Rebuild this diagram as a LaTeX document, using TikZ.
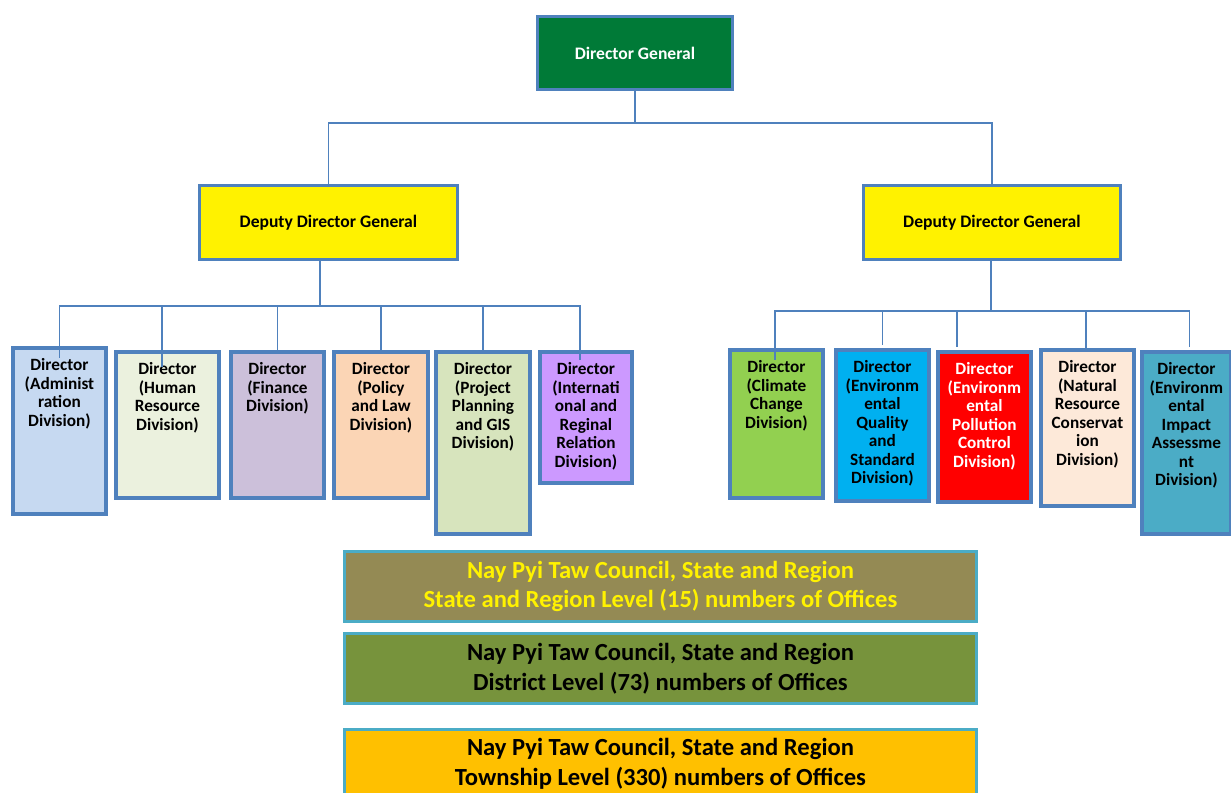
\documentclass[tikz,border=0pt]{standalone}
\usepackage{fontspec}
\setmainfont{Carlito}
\usepackage{tikz}
\usetikzlibrary{calc}
\definecolor{boxblue}{RGB}{79,129,189}
\definecolor{levelblue}{RGB}{75,172,198}
\definecolor{dggreen}{RGB}{0,122,55}
\definecolor{adminfill}{RGB}{198,217,241}
\definecolor{hrfill}{RGB}{235,241,222}
\definecolor{finfill}{RGB}{204,192,218}
\definecolor{policyfill}{RGB}{251,213,181}
\definecolor{projectfill}{RGB}{215,228,189}
\definecolor{intlfill}{RGB}{204,153,255}
\definecolor{climatefill}{RGB}{146,208,80}
\definecolor{qualityfill}{RGB}{0,176,240}
\definecolor{pollutionfill}{RGB}{255,0,0}
\definecolor{naturalfill}{RGB}{253,233,217}
\definecolor{impactfill}{RGB}{75,172,198}
\definecolor{statefill}{RGB}{148,138,84}
\definecolor{districtfill}{RGB}{119,147,60}
\definecolor{townshipfill}{RGB}{255,192,0}
\newdimen\pxu \pxu=0.02cm
\tikzset{
	conn/.style={draw=boxblue, line width=0.8pt},
	headbox/.style={draw=boxblue, line width=1.7pt, anchor=north west, inner sep=0pt,
		font=\bfseries\fontsize{10}{12}\selectfont},
	divbox/.style={draw=boxblue, line width=2.2pt, anchor=north west, inner sep=0pt,
		font=\bfseries\fontsize{9.8}{10.5}\selectfont},
	levelbox/.style={draw=levelblue, line width=1.7pt, anchor=north west, inner sep=0pt,
		align=center, minimum width=12.64cm, font=\bfseries\fontsize{14}{17}\selectfont}
}
\newcommand{\makedivision}[7]{
	\node[divbox, #6] (#1) at (#2,#3)
		{\parbox[t][#5\pxu][t]{#4\pxu}{\centering\rule{0pt}{13pt}#7}};
}

\begin{document}
\begin{tikzpicture}[x=0.02cm,y=-0.02cm]
	\useasboundingbox (0,0) rectangle (1231,793);

	\node[headbox, fill=dggreen, text=white, minimum width=3.9cm, minimum height=1.46cm] (dg) at (536,15) {Director General};
	\node[headbox, fill=yellow, minimum width=5.16cm, minimum height=1.48cm] (ddgL) at (198,184) {Deputy Director General};
	\node[headbox, fill=yellow, minimum width=5.14cm, minimum height=1.48cm] (ddgR) at (862,184) {Deputy Director General};

	\makedivision{admin}{11}{346}{93}{166}{fill=adminfill}{Director\\(Administ\\ration\\Division)}
	\makedivision{hr}{114}{350}{103}{146}{fill=hrfill}{Director\\(Human\\Resource\\Division)}
	\makedivision{fin}{229}{350}{93}{146}{fill=finfill}{Director\\(Finance\\Division)}
	\makedivision{policy}{332}{350}{94}{146}{fill=policyfill}{Director\\(Policy\\and Law\\Division)}
	\makedivision{project}{434}{350}{94}{182}{fill=projectfill}{Director\\(Project\\Planning\\and GIS\\Division)}
	\makedivision{intl}{538}{350}{92}{131}{fill=intlfill}{Director\\(Internati\\onal and\\Reginal\\Relation\\Division)}
	\makedivision{climate}{728}{348}{93}{148}{fill=climatefill}{Director\\(Climate\\Change\\Division)}
	\makedivision{quality}{834}{348}{93}{151}{fill=qualityfill}{Director\\(Environm\\ental\\Quality\\and\\Standard\\Division)}
	\makedivision{pollution}{936}{350}{93}{150}{fill=pollutionfill, text=white}{Director\\(Environm\\ental\\Pollution\\Control\\Division)}
	\makedivision{natural}{1039}{348}{93}{156}{fill=naturalfill}{Director\\(Natural\\Resource\\Conservat\\ion\\Division)}
	\makedivision{impact}{1140}{350}{89}{182}{fill=impactfill}{Director\\(Environm\\ental\\Impact\\Assessme\\nt\\Division)}

	\node[levelbox, fill=statefill, text=yellow, minimum height=1.4cm] (state) at (343,550)
		{Nay Pyi Taw Council, State and Region\\State and Region Level (15) numbers of Offices};
	\node[levelbox, fill=districtfill, minimum height=1.4cm] (district) at (343,632)
		{Nay Pyi Taw Council, State and Region\\District Level (73) numbers of Offices};
	\node[levelbox, fill=townshipfill, minimum height=1.36cm] (township) at (343,728)
		{Nay Pyi Taw Council, State and Region\\Township Level (330) numbers of Offices};

	% connectors
	\coordinate (busTop) at (633,123);
	\coordinate (busL) at (320,306);
	\coordinate (busR) at (991,311);
	\draw[conn] (dg.south) -- (dg.south |- busTop);
	\draw[conn] (ddgL.north) |- (busTop) -| (ddgR.north);
	\draw[conn] (ddgL.south -| busL) -- (busL);
	\draw[conn] (ddgR.south -| busR) -- (busR);
	\foreach \d/\dx/\dy in {admin/0/12, hr/-5.5/17, fin/0/0, policy/0/0, project/0/0, intl/-6/10}
		\draw[conn] (busL) -| ($(\d.north)+(\dx,\dy)$);
	\foreach \d/\dx/\dy in {climate/-1.5/12, quality/0/-3, pollution/-27.5/-3, natural/-1.5/0, impact/3/-3}
		\draw[conn] (busR) -| ($(\d.north)+(\dx,\dy)$);
\end{tikzpicture}
\end{document}
